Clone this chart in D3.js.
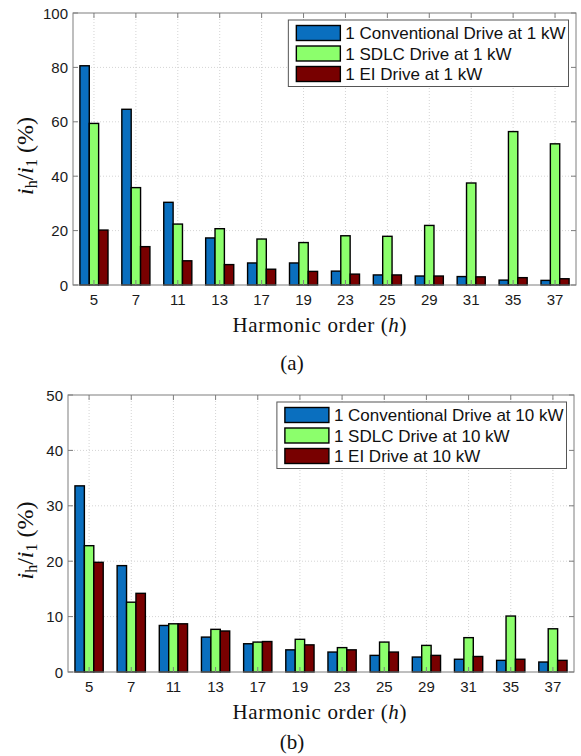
<!DOCTYPE html>
<html>
<head>
<meta charset="utf-8">
<script src="https://cdn.jsdelivr.net/npm/d3@7"></script>
<style>
  body { margin: 0; background: #fff; }
  svg { display: block; }
</style>
</head>
<body>
<div id="chart"></div>
<script>
// harmonic orders on the x axis
var harmonics = ["5", "7", "11", "13", "17", "19", "23", "25", "29", "31", "35", "37"];

// (a) 1 kW
var conv1kW = [80.6, 64.6, 30.4, 17.3, 8.1, 8.1, 5.1, 3.7, 3.3, 3.1, 1.8, 1.7];
var sdlc1kW = [59.4, 35.8, 22.4, 20.7, 16.9, 15.6, 18.1, 17.9, 21.9, 37.5, 56.4, 51.9];
var ei1kW   = [20.2, 14.1, 8.9, 7.5, 5.8, 5.0, 4.0, 3.7, 3.3, 3.0, 2.7, 2.3];

// (b) 10 kW
var conv10kW = [33.6, 19.2, 8.4, 6.3, 5.1, 4.0, 3.6, 3.0, 2.7, 2.3, 2.1, 1.8];
var sdlc10kW = [22.8, 12.6, 8.7, 7.7, 5.4, 5.9, 4.4, 5.4, 4.8, 6.2, 10.1, 7.8];
var ei10kW   = [19.8, 14.2, 8.7, 7.4, 5.5, 4.9, 4.0, 3.6, 3.0, 2.8, 2.3, 2.1];

var yTicksA = [0, 20, 40, 60, 80, 100];
var yTicksB = [0, 10, 20, 30, 40, 50];

var legendA = ["1 Conventional Drive at 1 kW", "1 SDLC Drive at 1 kW", "1 EI Drive at 1 kW"];
var legendB = ["1 Conventional Drive at 10 kW", "1 SDLC Drive at 10 kW", "1 EI Drive at 10 kW"];

var colors = ["#0A6FBF", "#8CFF6C", "#780000"];

var width = 581, height = 756;

var svg = d3.select("#chart").append("svg")
  .attr("width", width)
  .attr("height", height);

// one panel = one grouped bar chart
function drawPanel(p) {
  var g = svg.append("g");
  var left = p.left, right = p.right, top = p.top, bottom = p.bottom;

  var x = d3.scaleBand()
    .domain(harmonics)
    .range([left, right])
    .paddingInner(0.33)
    .paddingOuter(0.165);

  var series = [0, 1, 2];
  var xs = d3.scaleBand()
    .domain(series)
    .range([0, x.bandwidth()]);

  var y = d3.scaleLinear()
    .domain([0, p.yMax])
    .range([bottom, top]);

  // grid
  g.selectAll(".gx")
    .data(harmonics).enter()
    .append("line")
    .attr("x1", function(d){ return x(d) + x.bandwidth()/2; })
    .attr("x2", function(d){ return x(d) + x.bandwidth()/2; })
    .attr("y1", top)
    .attr("y2", bottom)
    .attr("stroke", "#d4d4d4")
    .attr("stroke-dasharray", "1,2");

  g.selectAll(".gy")
    .data(p.yTicks.slice(1, -1)).enter()
    .append("line")
    .attr("x1", left)
    .attr("x2", right)
    .attr("y1", function(d){ return y(d); })
    .attr("y2", function(d){ return y(d); })
    .attr("stroke", "#d4d4d4")
    .attr("stroke-dasharray", "1,2");

  // bars
  var data = [];
  harmonics.forEach(function(h, i){
    p.values.forEach(function(vals, s){
      data.push({h: h, s: s, v: vals[i]});
    });
  });

  g.selectAll(".bar")
    .data(data).enter()
    .append("rect")
    .attr("x", function(d){ return x(d.h) + xs(d.s); })
    .attr("width", xs.bandwidth())
    .attr("y", function(d){ return y(d.v); })
    .attr("height", function(d){ return y(0) - y(d.v); })
    .attr("fill", function(d){ return colors[d.s]; })
    .attr("stroke", "#000")
    .attr("stroke-width", 1.4);

  // box + ticks
  g.append("rect")
    .attr("x", left).attr("y", top)
    .attr("width", right - left).attr("height", bottom - top)
    .attr("fill", "none")
    .attr("stroke", "#7f7f7f")
    .attr("stroke-width", 1);

  var tl = 5;
  harmonics.forEach(function(h){
    var cx = x(h) + x.bandwidth()/2;
    g.append("line").attr("x1", cx).attr("x2", cx).attr("y1", bottom).attr("y2", bottom - tl).attr("stroke", "#7f7f7f");
    g.append("line").attr("x1", cx).attr("x2", cx).attr("y1", top).attr("y2", top + tl).attr("stroke", "#7f7f7f");
  });
  p.yTicks.forEach(function(t){
    g.append("line").attr("x1", left).attr("x2", left + tl).attr("y1", y(t)).attr("y2", y(t)).attr("stroke", "#7f7f7f");
    g.append("line").attr("x1", right).attr("x2", right - tl).attr("y1", y(t)).attr("y2", y(t)).attr("stroke", "#7f7f7f");
  });

  // tick labels
  g.selectAll(".xl")
    .data(harmonics).enter()
    .append("text")
    .text(function(d){ return d; })
    .attr("x", function(d){ return x(d) + x.bandwidth()/2; })
    .attr("y", bottom + 20)
    .attr("text-anchor", "middle")
    .attr("font-family", "Liberation Sans, Arial, sans-serif")
    .attr("font-size", "15px")
    .attr("fill", "#1a1a1a");

  g.selectAll(".yl")
    .data(p.yTicks).enter()
    .append("text")
    .text(function(d){ return d; })
    .attr("x", left - 5)
    .attr("y", function(d){ return y(d) + 5.5; })
    .attr("text-anchor", "end")
    .attr("font-family", "Liberation Sans, Arial, sans-serif")
    .attr("font-size", "15px")
    .attr("fill", "#1a1a1a");

  // axis titles
  var xt = g.append("text")
    .attr("x", 319.5)
    .attr("y", bottom + 47)
    .attr("text-anchor", "middle")
    .attr("textLength", 174)
    .attr("lengthAdjust", "spacing")
    .attr("font-family", "Liberation Serif, Times New Roman, serif")
    .attr("font-size", "21px")
    .attr("fill", "#111");
  xt.append("tspan").text("Harmonic order (");
  xt.append("tspan").attr("font-style", "italic").text("h");
  xt.append("tspan").text(")");

  var yt = g.append("text")
    .attr("transform", "translate(33," + ((top + bottom)/2 + 7) + ") rotate(-90)")
    .attr("text-anchor", "middle")
    .attr("font-family", "Liberation Serif, Times New Roman, serif")
    .attr("font-size", "24px")
    .attr("fill", "#111");
  yt.append("tspan").attr("font-style", "italic").text("i");
  yt.append("tspan").attr("font-size", "16px").attr("dy", 4).text("h");
  yt.append("tspan").attr("dy", -4).text("/");
  yt.append("tspan").attr("font-style", "italic").text("i");
  yt.append("tspan").attr("font-size", "16px").attr("dy", 4).text("1");
  yt.append("tspan").attr("dy", -4).text(" (%)");

  // caption
  svg.append("text")
    .attr("x", 292)
    .attr("y", p.captionY)
    .attr("text-anchor", "middle")
    .attr("font-family", "Liberation Serif, Times New Roman, serif")
    .attr("font-size", "21px")
    .attr("fill", "#111")
    .text(p.caption);

  // legend
  var lg = g.append("g");
  var rowH = 20.5, swW = 44, swH = 15, pad = 8;
  var texts = lg.selectAll(".lt")
    .data(p.legend).enter()
    .append("text")
    .text(function(d){ return d; })
    .attr("font-family", "Liberation Sans, Arial, sans-serif")
    .attr("font-size", "17px")
    .attr("fill", "#111");
  var maxW = 0;
  texts.each(function(){ maxW = Math.max(maxW, this.getComputedTextLength()); });
  var boxR = right - 7.5;
  var textX = boxR - 3 - maxW;
  var swX = textX - 5 - swW;
  var boxL = swX - pad;
  var boxT = top + p.legendTop;
  var boxH = rowH * 3 + 5;

  lg.insert("rect", "text")
    .attr("x", boxL).attr("y", boxT)
    .attr("width", boxR - boxL).attr("height", boxH)
    .attr("fill", "#fff")
    .attr("stroke", "#555")
    .attr("stroke-width", 1);

  texts
    .attr("x", textX)
    .attr("y", function(d, i){ return boxT + 13 + i*rowH + 6; });

  lg.selectAll(".sw")
    .data(p.legend).enter()
    .append("rect")
    .attr("x", swX)
    .attr("y", function(d, i){ return boxT + 13 + i*rowH - swH/2; })
    .attr("width", swW)
    .attr("height", swH)
    .attr("fill", function(d, i){ return colors[i]; })
    .attr("stroke", "#000")
    .attr("stroke-width", 1.4);
}

drawPanel({
  left: 73, right: 576, top: 13, bottom: 285,
  yMax: 100, yTicks: yTicksA,
  values: [conv1kW, sdlc1kW, ei1kW],
  legend: legendA, legendTop: 7,
  caption: "(a)", captionY: 370
});

drawPanel({
  left: 68, right: 574, top: 395, bottom: 672,
  yMax: 50, yTicks: yTicksB,
  values: [conv10kW, sdlc10kW, ei10kW],
  legend: legendB, legendTop: 7,
  caption: "(b)", captionY: 749
});
</script>
</body>
</html>
